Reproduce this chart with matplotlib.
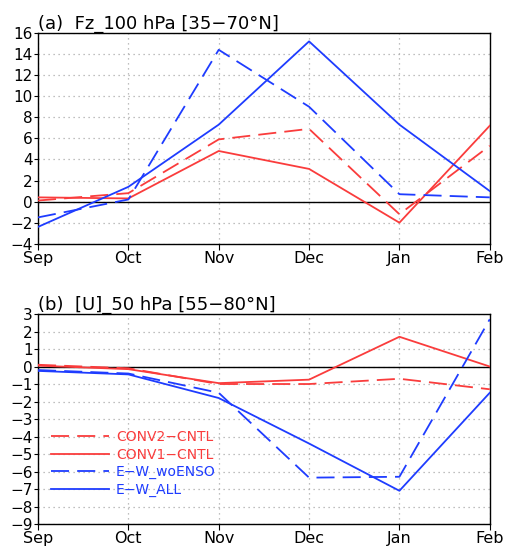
import matplotlib.pyplot as plt

months = ["Sep", "Oct", "Nov", "Dec", "Jan", "Feb"]

# (a) Fz at 100 hPa
fz_conv2 = [0.1, 0.8, 5.9, 6.9, -1.2, 5.3]
fz_conv1 = [0.4, 0.3, 4.8, 3.1, -2.0, 7.2]
fz_woenso = [-1.5, 0.2, 14.4, 9.0, 0.7, 0.4]
fz_all = [-2.4, 1.4, 7.3, 15.2, 7.3, 1.0]

# (b) [U] at 50 hPa
u_conv2 = [0.1, -0.1, -1.0, -1.0, -0.7, -1.3]
u_conv1 = [0.05, -0.15, -0.95, -0.75, 1.7, 0.0]
u_woenso = [-0.2, -0.4, -1.5, -6.35, -6.3, 2.7]
u_all = [-0.25, -0.45, -1.8, -4.4, -7.1, -1.5]

labels = ["CONV2\u2212CNTL", "CONV1\u2212CNTL", "E\u2212W_woENSO", "E\u2212W_ALL"]
red = "#fa3c3c"
blue = "#1e3cff"
dash = (0, (10, 4.5))
styles = [(red, dash), (red, "-"), (blue, dash), (blue, "-")]

fig = plt.figure(figsize=(5.07, 5.49), dpi=100)
ax1 = fig.add_axes([0.075, 0.556, 0.891, 0.384])
ax2 = fig.add_axes([0.075, 0.0455, 0.891, 0.3825])


def setup(ax, series, ylim, yticks, title):
    x = range(len(months))
    for s, (c, ls), lab in zip(series, styles, labels):
        ax.plot(x, s, color=c, linestyle=ls, lw=1.3, label=lab, zorder=3)
    ax.axhline(0, color="black", lw=1.0, zorder=2)
    ax.set_xlim(0, len(months) - 1)
    ax.set_ylim(*ylim)
    ax.set_xticks(list(x))
    ax.set_xticklabels(months, fontsize=11.5)
    ax.set_yticks(yticks)
    ax.tick_params(axis="y", labelsize=11, length=3, pad=1)
    ax.tick_params(axis="x", length=4, pad=1)
    ax.grid(True, color="#aaaaaa", linestyle=(0, (1, 3)), lw=0.9)
    for sp in ax.spines.values():
        sp.set_linestyle((0, (2, 1)))
        sp.set_linewidth(1.0)
    ax.set_title(title, loc="left", fontsize=13, pad=3)


setup(ax1, [fz_conv2, fz_conv1, fz_woenso, fz_all], (-4, 16), range(-4, 17, 2),
      "(a)  Fz_100 hPa [35\u221270\u00b0N]")
setup(ax2, [u_conv2, u_conv1, u_woenso, u_all], (-9, 3), range(-9, 4),
      "(b)  [U]_50 hPa [55\u221280\u00b0N]")

leg = ax2.legend(loc="lower left", bbox_to_anchor=(0.0, 0.07), frameon=False,
                 fontsize=10, handlelength=4.2, labelspacing=0.25,
                 handletextpad=0.5, labelcolor="linecolor")

fig.savefig("out.png", dpi=100)
